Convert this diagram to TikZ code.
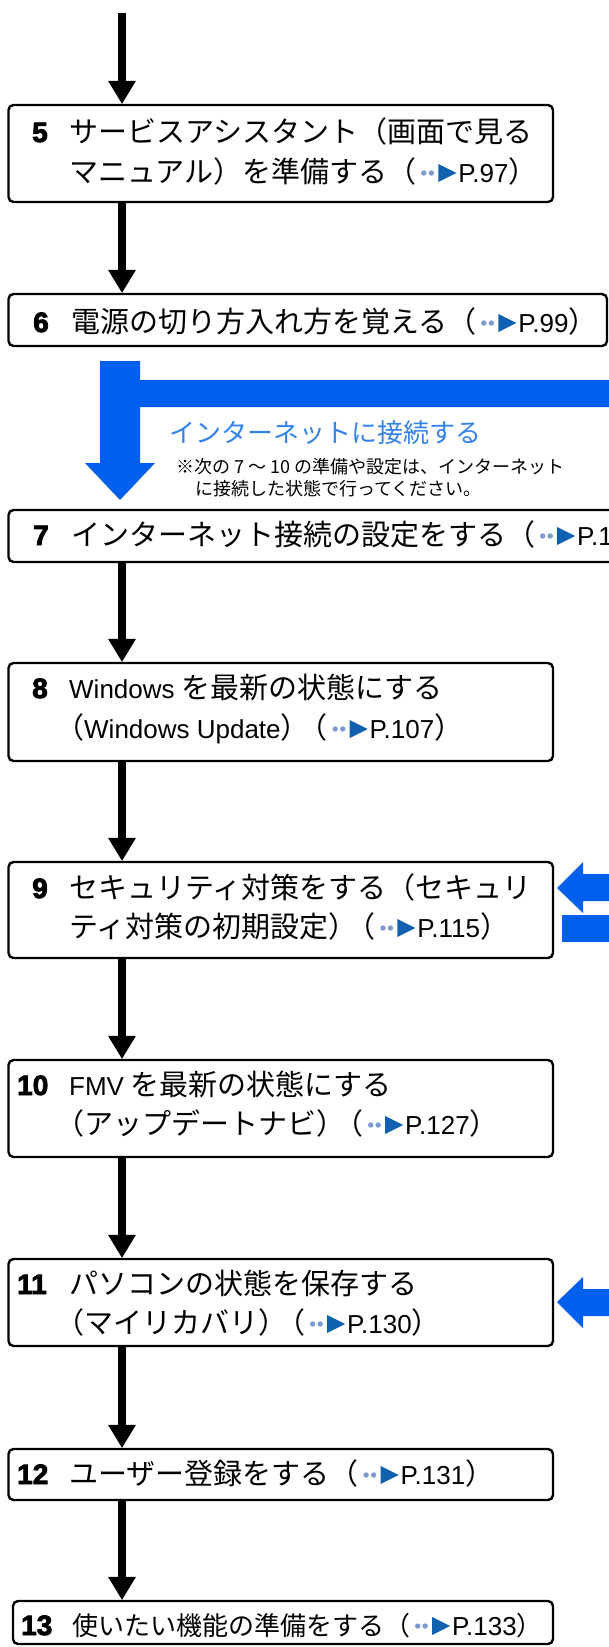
\documentclass[tikz,border=0pt]{standalone}
\usepackage{fontspec}
\setmainfont{Noto Sans CJK JP}
\newfontfamily\latfont{Liberation Sans}
\newfontfamily\numfont[FakeBold=3]{Liberation Sans}
\usetikzlibrary{arrows.meta}
\definecolor{bluebar}{RGB}{0,95,236}
\definecolor{headblue}{RGB}{50,130,235}
\definecolor{dotc}{RGB}{125,155,210}
\definecolor{tric}{RGB}{16,96,176}
\newcommand\latn[1]{{\latfont\fontsize{26}{30}\selectfont #1}}
\newcommand\numb[1]{{\numfont\bfseries\fontsize{28}{30}\selectfont #1}}
\newcommand\pgref[1]{\tikz[baseline=0pt,x=1pt,y=1pt]{\fill[dotc] (7.5,9) circle (2.7); \fill[dotc] (15,9) circle (2.7); \fill[tric] (22,0) -- (22,18) -- (40,9) -- cycle; \path (0,0) (42,0);}{\color{black}\latn{P.#1}}}
\newcommand\pk{\kern-11pt}
\begin{document}
\begin{tikzpicture}[x=1pt,y=-1pt,
  flowbox/.style={draw=black, line width=2.4pt, rounded corners=5pt, fill=white, inner sep=0pt},
  flowarrow/.style={line width=8pt, -{Triangle[width=28pt,length=23pt,line width=0pt]}},
  txt/.style={anchor=base west, inner sep=0pt, font=\fontsize{29}{34}\selectfont},
  numtxt/.style={anchor=base west, inner sep=0pt}]
\useasboundingbox (0,0) rectangle (609,1647);
\clip (0,0) rectangle (609,1647);

% boxes
\node[flowbox, minimum width=544.5pt, minimum height=97pt] (b5) at (280.75,153.5) {};
\node[flowbox, minimum width=598.5pt, minimum height=52pt] (b6) at (307.75,320) {};
\node[flowbox, minimum width=641.5pt, minimum height=52pt] (b7) at (329.25,536) {};
\node[flowbox, minimum width=544.5pt, minimum height=98pt] (b8) at (280.75,712) {};
\node[flowbox, minimum width=544.5pt, minimum height=96pt] (b9) at (280.75,910) {};
\node[flowbox, minimum width=544.5pt, minimum height=97pt] (b10) at (280.75,1108.5) {};
\node[flowbox, minimum width=544.5pt, minimum height=87pt] (b11) at (280.75,1302.5) {};
\node[flowbox, minimum width=544.5pt, minimum height=51pt] (b12) at (280.75,1474.5) {};
\node[flowbox, minimum width=540pt, minimum height=43pt] (b13) at (283,1622.5) {};

% texts
\node[numtxt] (n5) at (32,142) {\numb{5}};
\node[txt] (t5a) at (69,142) {サービスアシスタント（画面で見る};
\node[txt] (t5b) at (69,182) {マニュアル）を準備する（\pgref{97}）};

\node[numtxt] (n6) at (33,332) {\numb{6}};
\node[txt] (t6) at (71,332) {電源の切り方入れ方を覚える（\pgref{99}）};

\node[numtxt] (n7) at (33,545) {\numb{7}};
\node[txt] (t7) at (71,545) {インターネット接続の設定をする（\pgref{1}};

\node[numtxt] (n8) at (32,698) {\numb{8}};
\node[txt] (t8a) at (69,698) {\latn{Windows} を最新の状態にする};
\node[txt] (t8b) at (55,738) {（\latn{Windows Update}）\pk（\pgref{107}）};

\node[numtxt] (n9) at (32,898) {\numb{9}};
\node[txt] (t9a) at (69,898) {セキュリティ対策をする（セキュリ};
\node[txt] (t9b) at (69,937) {ティ対策の初期設定）\pk（\pgref{115}）};

\node[numtxt] (n10) at (17,1095) {\numb{10}};
\node[txt] (t10a) at (69,1095) {\latn{FMV} を最新の状態にする};
\node[txt] (t10b) at (55,1134) {（アップデートナビ）\pk（\pgref{127}）};

\node[numtxt] (n11) at (17,1294) {\numb{11}};
\node[txt] (t11a) at (69,1294) {パソコンの状態を保存する};
\node[txt] (t11b) at (55,1333) {（マイリカバリ）\pk（\pgref{130}）};

\node[numtxt] (n12) at (17,1484) {\numb{12}};
\node[txt] (t12) at (69,1484) {ユーザー登録をする（\pgref{131}）};

\node[numtxt] (n13) at (21,1635) {\numb{13}};
\node[txt, font=\fontsize{26}{30}\selectfont] (t13) at (72,1635) {使いたい機能の準備をする（\pgref{133}）};

% blue internet arrow and note
\fill[bluebar] (100,361) -- (140,361) -- (140,380) -- (615,380) -- (615,407) -- (140,407) -- (140,463) -- (155,463) -- (120,500) -- (85,463) -- (100,463) -- cycle;
\node[anchor=base west, inner sep=0pt, text=headblue, font=\fontsize{26}{30}\selectfont] (head) at (169,442) {インターネットに接続する};
\node[anchor=base west, inner sep=0pt, font=\fontsize{18}{22}\selectfont] (note1) at (176,473) {※次の 7 ～ 10 の準備や設定は、インターネット};
\node[anchor=base west, inner sep=0pt, font=\fontsize{18}{22}\selectfont] (note2) at (195,495) {に接続した状態で行ってください。};

% blue arrows at right
\fill[bluebar] (557,888) -- (583,862) -- (583,874) -- (615,874) -- (615,901) -- (583,901) -- (583,913) -- cycle;
\fill[bluebar] (562,915) rectangle (615,942);
\fill[bluebar] (557,1302) -- (583,1277) -- (583,1289) -- (615,1289) -- (615,1316) -- (583,1316) -- (583,1328) -- cycle;

% flow connectors
\coordinate (colx) at (122,0);
\coordinate (start) at (122,13);
\draw[flowarrow] (start) -- (b5.north -| colx);
\draw[flowarrow] (b5.south -| colx) -- (b6.north -| colx);
\draw[flowarrow] (b7.south -| colx) -- (b8.north -| colx);
\draw[flowarrow] (b8.south -| colx) -- (b9.north -| colx);
\draw[flowarrow] (b9.south -| colx) -- (b10.north -| colx);
\draw[flowarrow] (b10.south -| colx) -- (b11.north -| colx);
\draw[flowarrow] (b11.south -| colx) -- (b12.north -| colx);
\draw[flowarrow] (b12.south -| colx) -- (b13.north -| colx);
\end{tikzpicture}
\end{document}
